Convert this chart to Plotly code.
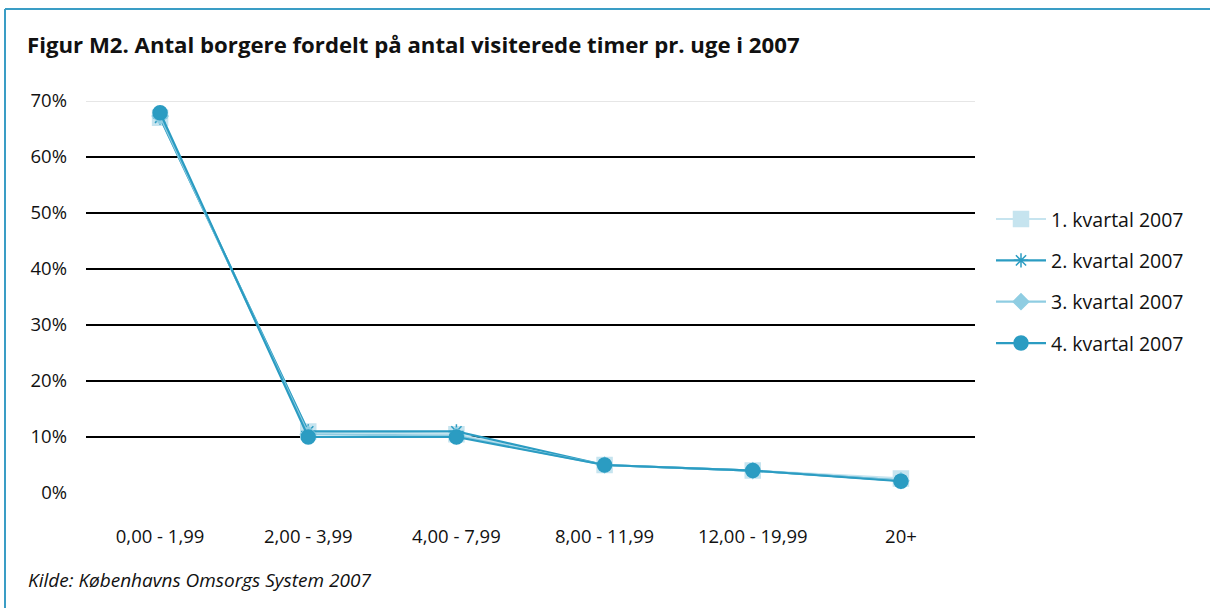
import plotly.graph_objects as go

categories = ["0,00 - 1,99", "2,00 - 3,99", "4,00 - 7,99", "8,00 - 11,99", "12,00 - 19,99", "20+"]
q1 = [67.0, 11.0, 10.5, 5.0, 4.0, 2.6]
q2 = [67.0, 11.0, 11.0, 5.0, 4.0, 2.2]
q3 = [67.3, 10.5, 10.2, 5.0, 4.0, 2.2]
q4 = [67.9, 10.0, 10.0, 5.0, 4.0, 2.1]
series_names = ["1. kvartal 2007", "2. kvartal 2007", "3. kvartal 2007", "4. kvartal 2007"]
y_ticks = [0, 10, 20, 30, 40, 50, 60, 70]
y_labels = [f"{v}%" for v in y_ticks]

FONT = "'Open Sans', Lato, sans-serif"
PW, PH = 889, 392  # plot area size in px

fig = go.Figure()
styles = [
    dict(color="#c6e4ef", symbol="square", size=15, lw=2.2),
    dict(color="#2b9cc2", symbol="asterisk-open", size=12, lw=2.2),
    dict(color="#8fcde2", symbol="diamond", size=12, lw=2.2),
    dict(color="#2b9cc2", symbol="circle", size=14, lw=2.2),
]
for i, (name, vals, st) in enumerate(zip(series_names, [q1, q2, q3, q4], styles)):
    fig.add_trace(go.Scatter(
        x=categories, y=vals, name=name, mode="lines+markers", legendgroup=f"g{i}",
        line=dict(color=st["color"], width=st["lw"]),
        marker=dict(symbol=st["symbol"], size=st["size"], color=st["color"],
                    line=dict(color=st["color"], width=1.5)),
    ))

fig.update_layout(
    width=1210, height=608,
    paper_bgcolor="white", plot_bgcolor="white",
    margin=dict(l=86, r=235, t=101, b=115, autoexpand=False),
    font=dict(family=FONT, size=18, color="#111111"),
    showlegend=True,
    legend=dict(x=1.018, y=0.54, xanchor="left", yanchor="middle",
                font=dict(size=19.5, color="#111111"), tracegroupgap=13,
                itemwidth=50, bgcolor="rgba(0,0,0,0)"),
    xaxis=dict(showgrid=False, showline=False, zeroline=False,
               ticklabelstandoff=30, tickfont=dict(size=18.5),
               range=[-0.5, 5.5]),
    yaxis=dict(range=[0, 70], tickvals=y_ticks, ticktext=y_labels,
               showgrid=True, gridcolor="#000000", gridwidth=1.6,
               zeroline=False, showline=False, ticklabelstandoff=18,
               tickfont=dict(size=18.5)),
    title=dict(text="<b>Figur M2. Antal borgere fordelt på antal visiterede timer pr. uge i 2007</b>",
               x=27 / 1210, xanchor="left", y=1 - 45 / 608, yanchor="middle",
               font=dict(size=22.2, color="#111111", family=FONT)),
)

# top gridline in light gray
fig.add_shape(type="line", xref="paper", yref="y", x0=0, x1=1, y0=70, y1=70,
              line=dict(color="#e6e6e6", width=2.2), layer="above")

# frame lines
fig.add_shape(type="line", xref="paper", yref="paper",
              x0=-81 / PW, x1=1 + 235 / PW, y0=1 + 92 / PH, y1=1 + 92 / PH,
              line=dict(color="#3a9dc5", width=2))
fig.add_shape(type="line", xref="paper", yref="paper",
              x0=-81 / PW, x1=-81 / PW, y0=1 + 92 / PH, y1=-115 / PH,
              line=dict(color="#3a9dc5", width=2))

fig.add_annotation(text="<i>Kilde: Københavns Omsorgs System 2007</i>",
                   xref="paper", yref="paper", x=-60 / PW, y=-87 / PH,
                   xanchor="left", yanchor="middle", showarrow=False,
                   font=dict(size=19, color="#111111", family=FONT))

fig.write_html("out.html", config={"displayModeBar": False},
               post_script="document.body.style.margin='0';document.body.style.overflow='hidden';")
